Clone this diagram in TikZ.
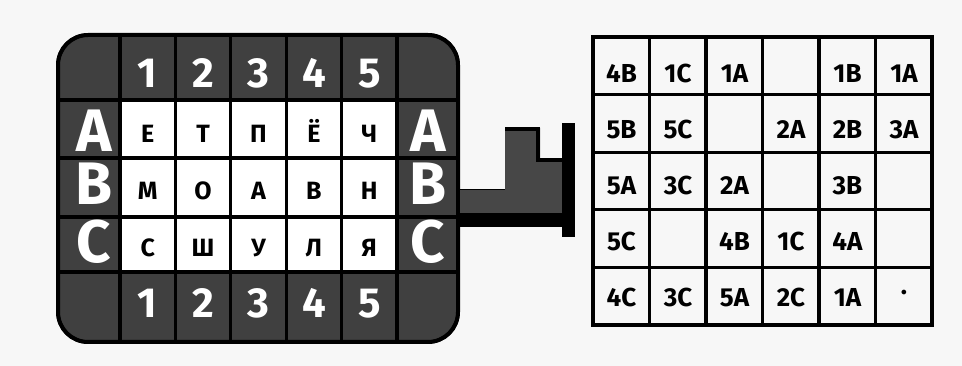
\documentclass[tikz,border=0pt]{standalone}
\usepackage{fontspec}
\setmainfont{Fira Sans}
\usepackage{tikz}
\definecolor{panelgray}{gray}{0.25}
\definecolor{paper}{gray}{0.97}
\tikzset{
  panel/.style    = {fill=panelgray,draw=black,line width=3.5pt},
  gridline/.style = {black,line width=3.2pt},
  numlbl/.style   = {white,anchor=base,inner sep=0pt,font=\fontsize{42}{42}\selectfont\bfseries},
  rowlbl/.style   = {white,anchor=base,inner sep=0pt,text height=42pt,text depth=0pt,
                     font=\fontsize{60}{60}\selectfont\bfseries},
  letter/.style   = {anchor=base,inner sep=0pt,font=\fontsize{25}{25}\selectfont\bfseries},
  code/.style     = {anchor=base,inner sep=0pt,font=\fontsize{26}{26}\selectfont\bfseries}
}

\begin{document}
\begin{tikzpicture}[x=1pt,y=-1pt]
  \useasboundingbox[fill=paper] (0,0) rectangle (962,366);
  % stencil
  \draw[panel,rounded corners=30pt] (58,35) rectangle (458,342);
  \fill[white] (120,100) rectangle (397,272);
  \foreach \x in {120,175.4,230.8,286.2,341.6,397}
    \draw[gridline] (\x,35) -- (\x,342);
  \foreach \y in {100,158,217,272}
    \draw[gridline] (58,\y) -- (458,\y);
  \draw[black,line width=4pt,rounded corners=30pt] (58,35) rectangle (458,342);
  \foreach \n [count=\i] in {1,2,3,4,5} {
    \node[numlbl] (top\i) at (92.3+55.4*\i,88) {\n};
    \node[numlbl] (bot\i) at (92.3+55.4*\i,318) {\n};
  }
  \foreach \r/\b [count=\j] in {A/152,B/205,C/263} {
    \node[rowlbl] (left\j) at (94,\b) {\r};
    \node[rowlbl] (right\j) at (428,\b) {\r};
  }
  \foreach \t [count=\i] in {Е,Т,П,Ё,Ч}
    \node[letter] (l-1-\i) at (92.3+55.4*\i,143) {\MakeUppercase{\t}};
  \foreach \t [count=\i] in {М,О,А,В,Н}
    \node[letter] (l-2-\i) at (92.3+55.4*\i,200) {\MakeUppercase{\t}};
  \foreach \t [count=\i] in {С,Ш,У,Л,Я}
    \node[letter] (l-3-\i) at (92.3+55.4*\i,257) {\MakeUppercase{\t}};

  % handle
  \fill[black!72] (460,190) -- (505,190) -- (505,128) -- (540,128)
    -- (540,160) -- (565,160) -- (565,220) -- (460,220) -- cycle;
  \draw[black,line width=1pt] (460,190) -- (505,190);
  \draw[black,line width=4pt] (505,129) -- (538,129) -- (538,160) -- (564,160);
  \fill[black] (460,213) rectangle (565,227);
  \fill[black] (562,123) rectangle (575,237);

  % key table
  \foreach \x in {649.5,706,762.5,819,875.5}
    \draw[gridline] (\x,37) -- (\x,325);
  \foreach \y in {94.6,152.2,209.8,267.4}
    \draw[gridline] (593,\y) -- (932,\y);
  \draw[black,line width=3.6pt] (593,37) rectangle (932,325);
  \foreach \t/\c/\r in {4B/1/1,1C/2/1,1A/3/1,1B/5/1,1A/6/1,
                        5B/1/2,5C/2/2,2A/4/2,2B/5/2,3A/6/2,
                        5A/1/3,3C/2/3,2A/3/3,3B/5/3,
                        5C/1/4,4B/3/4,1C/4/4,4A/5/4,
                        4C/1/5,3C/2/5,5A/3/5,2C/4/5,1A/5/5}
    \node[code] (k-\r-\c) at (565+56.5*\c,27+56*\r) {\t};
  \node[code] (k-5-6) at (904,301) {·};
\end{tikzpicture}
\end{document}
